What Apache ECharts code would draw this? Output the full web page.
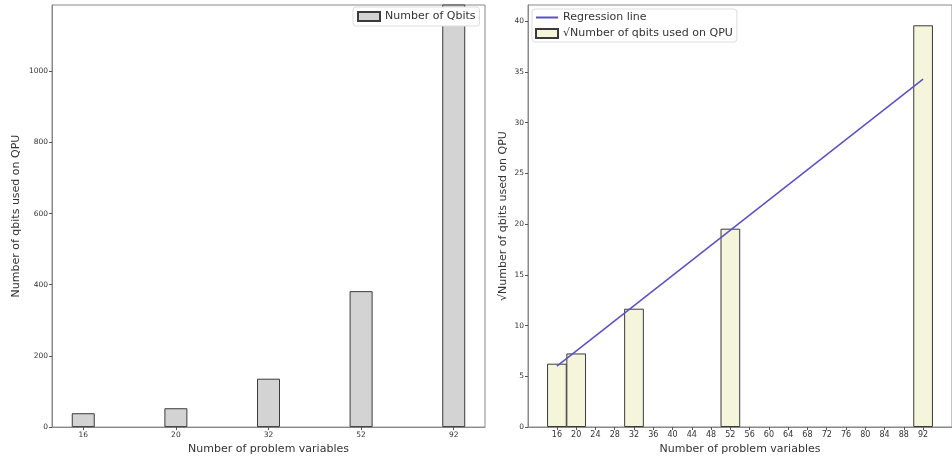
<!DOCTYPE html>
<html>
<head>
<meta charset="utf-8">
<script src="https://cdn.jsdelivr.net/npm/echarts@6/dist/echarts.min.js"></script>
<style>
html, body { margin: 0; padding: 0; background: #fff; }
#chart { width: 952px; height: 460px; }
</style>
</head>
<body>
<div id="chart"></div>
<script>
// problem sizes and qubits used on the QPU
var categories = ['16', '20', '32', '52', '92'];
var qbits = [39, 53, 136, 382, 1568];
// right panel: sqrt of qubit counts at x = problem size
var sqrtX = [16, 20, 32, 52, 92];
var sqrtQbits = [6.24, 7.25, 11.66, 19.55, 39.6];
// regression line end points
var regX = [16, 92];
var regY = [6.0, 34.3];
var leftYTicks = [0, 200, 400, 600, 800, 1000];
var rightXTicks = [16, 20, 24, 28, 32, 36, 40, 44, 48, 52, 56, 60, 64, 68, 72, 76, 80, 84, 88, 92];
var rightYTicks = [0, 5, 10, 15, 20, 25, 30, 35, 40];

var font = 'DejaVu Sans';
var txt = '#333';
var spine = '#888';

var myChart = echarts.init(document.getElementById('chart'));

var leftData = [];
for (i = 0; i < qbits.length; i++) leftData.push([i, qbits[i]]);
var rightData = [];
for (i = 0; i < sqrtX.length; i++) rightData.push([sqrtX[i], sqrtQbits[i]]);
var lineData = [];
for (i = 0; i < regX.length; i++) lineData.push([regX[i], regY[i]]);

function axisBase() {
	return {
		axisLine: {show: true, onZero: false, lineStyle: {color: spine, width: 1}},
		axisTick: {show: true, length: 3, lineStyle: {color: '#555'}},
		splitLine: {show: false},
		axisLabel: {color: txt, fontSize: 7.5, fontFamily: font, margin: 4,
			formatter: function (v) { return String(v); }}
	};
}

var xL = axisBase();
xL.gridIndex = 0; xL.type = 'value'; xL.min = -0.3375; xL.max = 4.3375;
xL.axisTick.customValues = [0, 1, 2, 3, 4];
xL.axisLabel.customValues = [0, 1, 2, 3, 4];
xL.axisLabel.formatter = function (v) { return categories[Math.round(v)]; };
xL.name = 'Number of problem variables'; xL.nameLocation = 'middle'; xL.nameGap = 14;
xL.nameTextStyle = {color: txt, fontSize: 11, fontFamily: font};

var yL = axisBase();
yL.gridIndex = 0; yL.type = 'value'; yL.min = 0; yL.max = 1186;
yL.axisTick.customValues = leftYTicks;
yL.axisLabel.customValues = leftYTicks;
yL.name = 'Number of qbits used on QPU'; yL.nameLocation = 'middle'; yL.nameGap = 30;
yL.nameTextStyle = {color: txt, fontSize: 11, fontFamily: font};

var xR = axisBase();
xR.gridIndex = 1; xR.type = 'value'; xR.min = 10; xR.max = 98;
xR.axisTick.customValues = rightXTicks;
xR.axisLabel.customValues = rightXTicks;
xR.axisLabel.fontSize = 8;
xR.name = 'Number of problem variables'; xR.nameLocation = 'middle'; xR.nameGap = 14;
xR.nameTextStyle = {color: txt, fontSize: 11, fontFamily: font};

var yR = axisBase();
yR.gridIndex = 1; yR.type = 'value'; yR.min = 0; yR.max = 41.6;
yR.axisTick.customValues = rightYTicks;
yR.axisLabel.customValues = rightYTicks;
yR.name = '\u221ANumber of qbits used on QPU'; yR.nameLocation = 'middle'; yR.nameGap = 19;
yR.nameTextStyle = {color: txt, fontSize: 11, fontFamily: font};

var legendBase = {
	orient: 'vertical',
	backgroundColor: '#fff',
	borderColor: '#ddd',
	borderWidth: 1,
	borderRadius: 3,
	itemWidth: 22,
	itemHeight: 9,
	itemGap: 5,
	textStyle: {color: txt, fontSize: 11, fontFamily: font}
};

var option = {
	animation: false,
	backgroundColor: '#fff',
	grid: [
		{left: 52, right: 467, top: 5, bottom: 32, show: true, borderColor: spine, borderWidth: 1, backgroundColor: 'transparent'},
		{left: 528, right: -8, top: 5, bottom: 33, show: true, borderColor: spine, borderWidth: 1, backgroundColor: 'transparent'}
	],
	legend: [
		Object.assign({}, legendBase, {left: 353, top: 7, padding: [4, 4, 4, 4], data: [{name: 'Number of Qbits', icon: 'rect'}]}),
		Object.assign({}, legendBase, {left: 532, top: 9, padding: [3, 4, 3, 3], data: [
			{name: 'Regression line', itemStyle: {opacity: 0}},
			{name: '\u221ANumber of qbits used on QPU', icon: 'rect'}
		]})
	],
	xAxis: [xL, xR],
	yAxis: [yL, yR],
	series: [
		{
			name: 'Number of Qbits',
			type: 'bar',
			xAxisIndex: 0, yAxisIndex: 0,
			data: leftData,
			barWidth: 23,
			clip: true,
			itemStyle: {color: '#d3d3d3', borderColor: '#3a3a3a', borderWidth: 1}
		},
		{
			name: '\u221ANumber of qbits used on QPU',
			type: 'bar',
			xAxisIndex: 1, yAxisIndex: 1,
			data: rightData,
			barWidth: 19.7,
			itemStyle: {color: '#f5f5dc', borderColor: '#3a3a3a', borderWidth: 1}
		},
		{
			name: 'Regression line',
			type: 'line',
			xAxisIndex: 1, yAxisIndex: 1,
			data: lineData,
			symbol: 'none',
			z: 5,
			lineStyle: {color: '#5a50c0', width: 1.5}
		}
	]
};
myChart.setOption(option);
</script>
</body>
</html>
